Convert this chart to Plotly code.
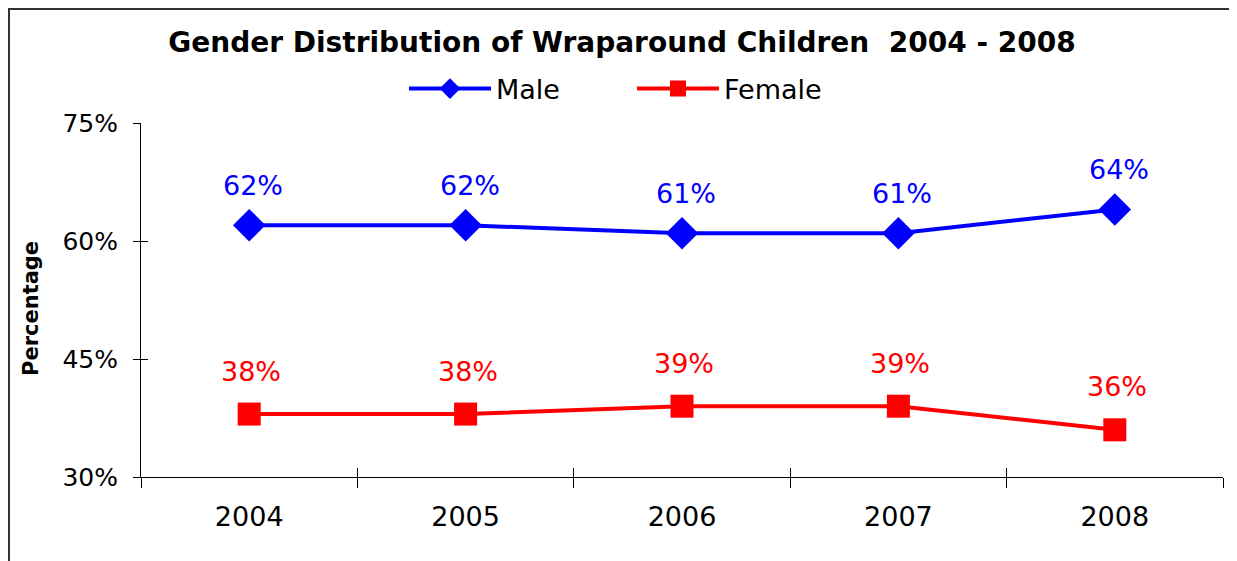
import plotly.graph_objects as go

years = ["2004", "2005", "2006", "2007", "2008"]
male = [62, 62, 61, 61, 64]
female = [38, 38, 39, 39, 36]
y_ticks = [30, 45, 60, 75]
y_tick_text = [f"{v}%" for v in y_ticks]

FONT = "DejaVu Sans, Liberation Sans, Arial, sans-serif"
BLUE = "#0000FF"
RED = "#FF0000"

# figure sits at an 8px body offset in the page
W, H = 1229, 553
L, T, R, B = 133, 115, 14, 84
PW, PH = W - L - R, H - T - B

fig = go.Figure()
fig.add_trace(go.Scatter(
    x=years, y=male, name="Male", mode="lines+markers",
    line=dict(color=BLUE, width=4),
    marker=dict(symbol="diamond", size=25, color=BLUE),
))
fig.add_trace(go.Scatter(
    x=years, y=female, name="Female", mode="lines+markers",
    line=dict(color=RED, width=4),
    marker=dict(symbol="square", size=23, color=RED),
))
# invisible trace that activates the overlay axes used for cross ticks
fig.add_trace(go.Scatter(x=[0], y=[y_ticks[0]], xaxis="x2", yaxis="y2",
                         mode="markers", marker=dict(opacity=0),
                         showlegend=False, hoverinfo="skip"))

for i, v in enumerate(male):
    fig.add_annotation(x=i, y=v, xref="x", yref="y", text=f"{v}%",
                       showarrow=False, yshift=40, xshift=4,
                       font=dict(family=FONT, size=27, color=BLUE))
for i, v in enumerate(female):
    fig.add_annotation(x=i, y=v, xref="x", yref="y", text=f"{v}%",
                       showarrow=False, yshift=43, xshift=2,
                       font=dict(family=FONT, size=27, color=RED))

# y-axis title
fig.add_annotation(x=(23 - L) / PW, y=(H - B - 301) / PH, xref="paper",
                   yref="paper", text="<b>Percentage</b>", textangle=-90,
                   showarrow=False, xanchor="center", yanchor="middle",
                   font=dict(family=FONT, size=21, color="black"))

fig.update_layout(
    width=W, height=H,
    margin=dict(l=L, r=R, t=T, b=B, autoexpand=False),
    paper_bgcolor="white", plot_bgcolor="white",
    font=dict(family=FONT, size=24, color="black"),
    title=dict(text="<b>Gender Distribution of Wraparound Children  2004 - 2008</b>",
               x=0.4996, xanchor="center", y=1 - 34 / H, yanchor="middle",
               font=dict(family=FONT, size=28, color="black")),
    legend=dict(orientation="h", xanchor="left", x=(396 - L) / PW,
                y=(H - B - 81) / PH, yanchor="middle",
                itemwidth=82, entrywidth=131,
                font=dict(family=FONT, size=27, color="black"),
                bgcolor="rgba(0,0,0,0)"),
    showlegend=True,
    xaxis=dict(type="category", categoryorder="array", categoryarray=years,
               range=[-0.5, 4.5], tickson="boundaries", ticks="outside",
               ticklen=10, tickcolor="black", tickwidth=1,
               showline=True, linecolor="black", linewidth=1,
               showgrid=False, zeroline=False, ticklabelstandoff=16,
               tickfont=dict(family=FONT, size=27, color="black")),
    yaxis=dict(range=[30, 75], tickmode="array", tickvals=y_ticks,
               ticktext=y_tick_text,
               ticks="outside", ticklen=7, tickcolor="black", tickwidth=1,
               showline=True, linecolor="black", linewidth=1,
               showgrid=False, zeroline=False, ticklabelstandoff=10,
               tickfont=dict(family=FONT, size=25, color="black")),
    xaxis2=dict(overlaying="x", anchor="y2", side="bottom", type="linear",
                range=[-0.5, 4.5], tickmode="array",
                tickvals=[-0.5, 0.5, 1.5, 2.5, 3.5, 4.5], ticks="inside",
                ticklen=9, tickcolor="black", tickwidth=1,
                showticklabels=False, showline=False, showgrid=False,
                zeroline=False),
    yaxis2=dict(overlaying="y", anchor="x2", side="left", type="linear",
                range=[30, 75], tickmode="array", tickvals=y_ticks,
                ticks="inside", ticklen=7, tickcolor="black", tickwidth=1,
                showticklabels=False, showline=False, showgrid=False,
                zeroline=False),
)

# outer frame of the chart image
fig.add_shape(type="rect", xref="paper", yref="paper",
              x0=(1 - L) / PW, x1=(1224 - L) / PW,
              y0=(H - B - 600) / PH, y1=(H - B - 1) / PH,
              line=dict(color="#333333", width=2), fillcolor="rgba(0,0,0,0)",
              layer="below")

fig.write_html("out.html")
